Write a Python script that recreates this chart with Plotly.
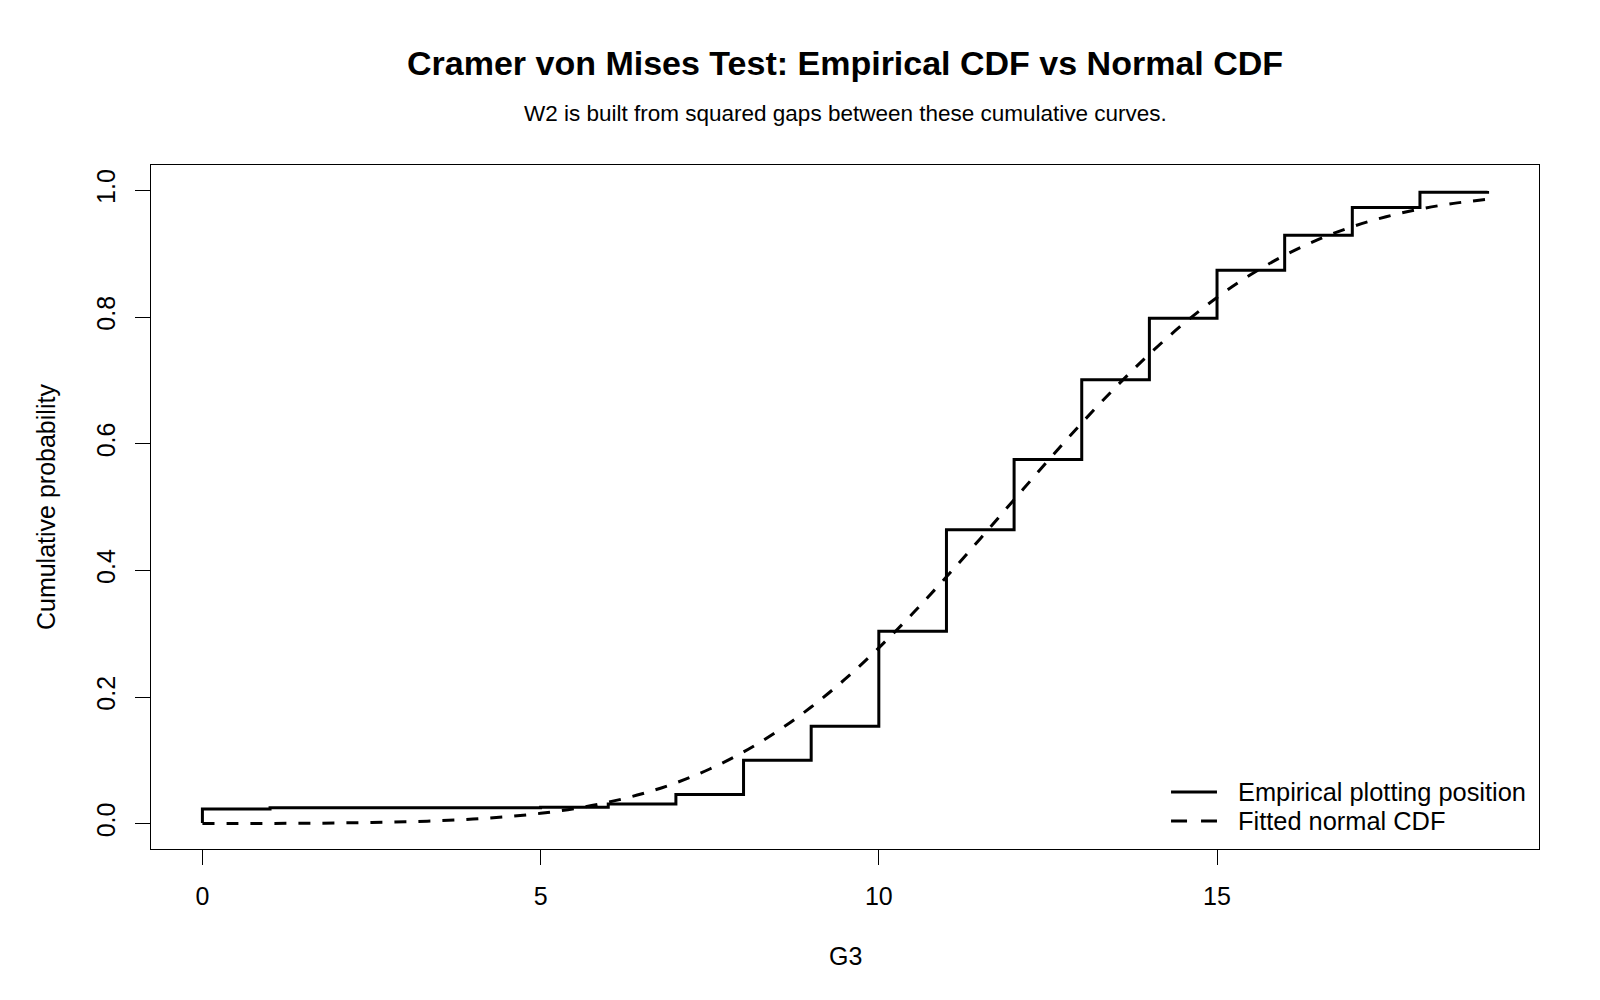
import plotly.graph_objects as go

# Empirical plotting positions (step function)
emp_x = [0, 0, 1, 5, 6, 7, 8, 9, 10, 11, 12, 13, 14, 15, 16, 17, 18, 19]
emp_y = [0.001, 0.023, 0.025, 0.026, 0.031, 0.046, 0.100, 0.154, 0.304,
         0.464, 0.575, 0.701, 0.798, 0.874, 0.929, 0.973, 0.997, 0.999]

# Fitted normal CDF (dashed curve)
norm_x = [0, 0.5, 1, 1.5, 2, 2.5, 3, 3.5, 4, 4.5, 5, 5.5, 6, 6.5, 7, 7.5, 8, 8.5,
          9, 9.5, 10, 10.5, 11, 11.5, 12, 12.5, 13, 13.5, 14, 14.5, 15, 15.5,
          16, 16.5, 17, 17.5, 18, 18.5, 19]
norm_y = [0.0001, 0.0002, 0.0004, 0.0006, 0.0011, 0.0018, 0.0029, 0.0046, 0.0072,
          0.0110, 0.0163, 0.0237, 0.0338, 0.0472, 0.0644, 0.0863, 0.1133, 0.1459,
          0.1841, 0.2281, 0.2776, 0.3318, 0.3897, 0.4500, 0.5116, 0.5730, 0.6326,
          0.6890, 0.7415, 0.7890, 0.8309, 0.8670, 0.8974, 0.9225, 0.9426, 0.9583,
          0.9704, 0.9794, 0.9859]

x_ticks = [0, 5, 10, 15]
y_ticks = [0.0, 0.2, 0.4, 0.6, 0.8, 1.0]
y_tick_text = ["0.0", "0.2", "0.4", "0.6", "0.8", "1.0"]

series_names = ["Empirical plotting position", "Fitted normal CDF"]
series_dash = ["solid", "16px,14px"]

title = "Cramer von Mises Test: Empirical CDF vs Normal CDF"
subtitle = "W2 is built from squared gaps between these cumulative curves."
xlabel = "G3"
ylabel = "Cumulative probability"

FONT = "Liberation Sans, Arial, sans-serif"

fig = go.Figure()
fig.add_trace(go.Scatter(x=emp_x, y=emp_y, mode="lines", line_shape="hv",
                         line=dict(color="black", width=3),
                         name=series_names[0]))
fig.add_trace(go.Scatter(x=norm_x, y=norm_y, mode="lines", line_shape="spline",
                         line=dict(color="black", width=3, dash="12px,12px"),
                         name=series_names[1]))

annotations = [
    dict(text="<b>" + title + "</b>", xref="paper", yref="paper",
         x=0.5, y=1.149, xanchor="center", yanchor="middle",
         showarrow=False, font=dict(size=34)),
    dict(text=subtitle, xref="paper", yref="paper",
         x=0.5, y=1.0746, xanchor="center", yanchor="middle",
         showarrow=False, font=dict(size=22.5)),
    dict(text=xlabel, xref="paper", yref="paper",
         x=0.5, y=-0.1564, xanchor="center", yanchor="middle",
         showarrow=False, font=dict(size=25)),
    dict(text=ylabel, xref="paper", yref="paper",
         x=-0.0756, y=0.5, xanchor="center", yanchor="middle",
         textangle=-90, showarrow=False, font=dict(size=25)),
]

# Manual legend (R style) in the bottom-right corner
shapes = []
legend_rows_y = [0.0833, 0.0409]
for name, dash, ly in zip(series_names, series_dash, legend_rows_y):
    shapes.append(dict(type="line", xref="paper", yref="paper",
                       x0=0.7349, x1=0.7680, y0=ly, y1=ly,
                       line=dict(color="black", width=3, dash=dash)))
    annotations.append(dict(text=name, xref="paper", yref="paper",
                            x=0.7816, y=ly, xanchor="left", yanchor="middle",
                            showarrow=False, font=dict(size=25.4)))

fig.update_layout(
    width=1600, height=1000,
    margin=dict(l=151, r=61, t=165, b=151),
    paper_bgcolor="white", plot_bgcolor="white",
    font=dict(family=FONT, size=25, color="black"),
    showlegend=False,
    annotations=annotations,
    shapes=shapes,
)
fig.update_xaxes(range=[-0.76, 19.76], tickvals=x_ticks, ticks="outside",
                 ticklen=15, tickwidth=1, tickcolor="black",
                 showline=True, linecolor="black", linewidth=1, mirror=True,
                 showgrid=False, zeroline=False, tickfont=dict(size=25),
                 ticklabelstandoff=10)
fig.update_yaxes(range=[-0.04, 1.04], tickvals=y_ticks, ticktext=y_tick_text,
                 ticks="outside", ticklen=15, tickwidth=1, tickcolor="black",
                 showline=True, linecolor="black", linewidth=1, mirror=True,
                 showgrid=False, zeroline=False, tickangle=-90,
                 tickfont=dict(size=25), ticklabelstandoff=10)

fig.write_html("out.html")
